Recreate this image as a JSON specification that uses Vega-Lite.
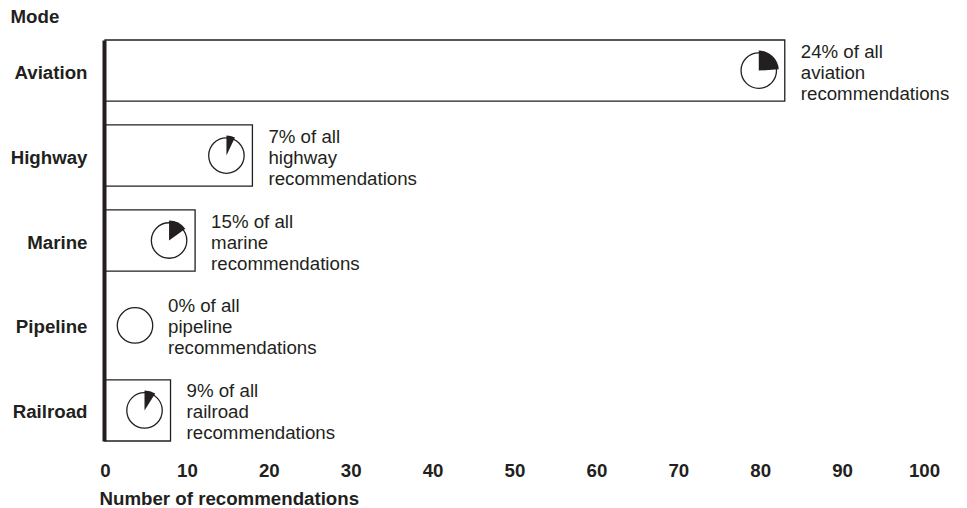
{
  "$schema": "https://vega.github.io/schema/vega-lite/v6.json",
  "width": 819,
  "height": 401,
  "autosize": {"type": "none"},
  "padding": {"left": 105, "top": 40, "right": 43, "bottom": 67},
  "background": "white",
  "config": {
    "view": {"stroke": null},
    "font": "Liberation Sans",
    "text": {"lineBreak": "\n"}
  },
  "data": {
    "values": [
      {"mode": "Aviation", "count": 83, "pct": 24, "label": "24% of all\naviation\nrecommendations"},
      {"mode": "Highway", "count": 18, "pct": 7, "label": "7% of all\nhighway\nrecommendations"},
      {"mode": "Marine", "count": 11, "pct": 15, "label": "15% of all\nmarine\nrecommendations"},
      {"mode": "Pipeline", "count": 0, "pct": 0, "label": "0% of all\npipeline\nrecommendations"},
      {"mode": "Railroad", "count": 8, "pct": 9, "label": "9% of all\nrailroad\nrecommendations"}
    ]
  },
  "encoding": {
    "y": {
      "field": "mode",
      "type": "nominal",
      "sort": null,
      "scale": {"paddingInner": 0.28, "paddingOuter": 0},
      "axis": {
        "title": "Mode",
        "titleAngle": 0,
        "titleAlign": "left",
        "titleBaseline": "middle",
        "titleX": -94,
        "titleY": -24,
        "titleFontSize": 18.7,
        "titleFontWeight": "bold",
        "titleColor": "#231f20",
        "domain": true,
        "domainWidth": 4,
        "domainColor": "#231f20",
        "offset": 1,
        "ticks": false,
        "tickSize": 0,
        "grid": false,
        "labelPadding": 17,
        "labelFontSize": 18.7,
        "labelFontWeight": "bold",
        "labelColor": "#231f20",
        "labelOffset": 2,
        "zindex": 1
      }
    },
    "x": {
      "field": "count",
      "type": "quantitative",
      "scale": {"domain": [0, 100], "nice": false},
      "axis": {
        "values": [0, 10, 20, 30, 40, 50, 60, 70, 80, 90, 100],
        "domain": false,
        "ticks": false,
        "tickSize": 0,
        "grid": false,
        "labelFlush": false,
        "labelPadding": 20,
        "labelFontSize": 18.7,
        "labelFontWeight": "bold",
        "labelColor": "#231f20",
        "title": "Number of recommendations",
        "titleFontSize": 18.7,
        "titleFontWeight": "bold",
        "titleColor": "#231f20",
        "titleAnchor": "start",
        "titleAlign": "left",
        "titleX": -6,
        "titleY": 63,
        "titleBaseline": "alphabetic"
      }
    }
  },
  "layer": [
    {
      "mark": {"type": "bar", "fill": "white", "stroke": "#231f20", "strokeWidth": 1.3}
    },
    {
      "transform": [{"filter": "datum.count > 0"}],
      "layer": [
        {
          "mark": {"type": "circle", "size": 1257, "fill": "white", "opacity": 1, "stroke": "#231f20", "strokeWidth": 1.3, "xOffset": -26}
        },
        {
          "mark": {"type": "arc", "radius": 20, "fill": "#231f20", "xOffset": -26},
          "encoding": {
            "theta": {"field": "pct", "type": "quantitative", "scale": {"domain": [0, 100], "range": [0, 6.2832]}},
            "theta2": {"datum": 0}
          }
        },
        {
          "mark": {"type": "text", "align": "left", "baseline": "middle", "dx": 16, "dy": -19, "fontSize": 18.7, "lineHeight": 21, "color": "#231f20"},
          "encoding": {"text": {"field": "label"}}
        }
      ]
    },
    {
      "transform": [{"filter": "datum.count == 0"}],
      "layer": [
        {
          "mark": {"type": "circle", "size": 1257, "fill": "white", "opacity": 1, "stroke": "#231f20", "strokeWidth": 1.3, "xOffset": 30}
        },
        {
          "mark": {"type": "text", "align": "left", "baseline": "middle", "dx": 63, "dy": -19, "fontSize": 18.7, "lineHeight": 21, "color": "#231f20"},
          "encoding": {"text": {"field": "label"}}
        }
      ]
    }
  ]
}
